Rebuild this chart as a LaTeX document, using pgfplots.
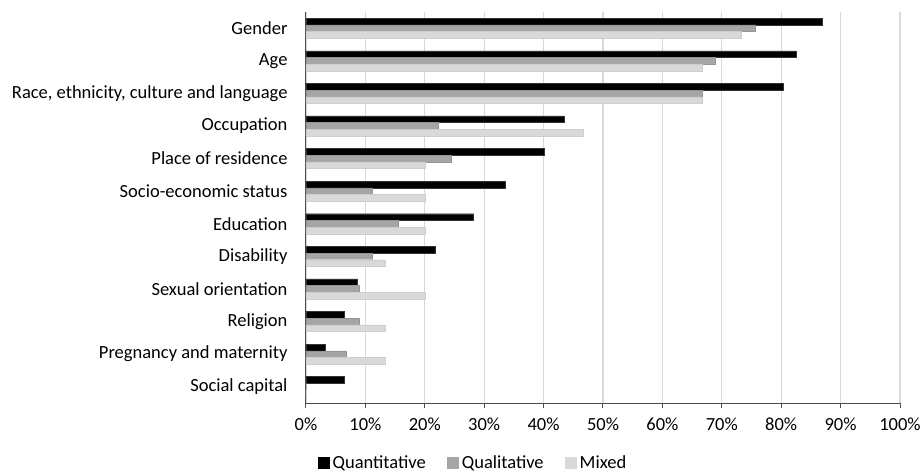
\documentclass[border=0pt]{standalone}
\usepackage{pgfplots}
\pgfplotsset{compat=1.18}
\usepackage{fontspec}
\setmainfont{Carlito}
\definecolor{qualc}{HTML}{A5A5A5}
\definecolor{mixc}{HTML}{D9D9D9}
\definecolor{gridc}{HTML}{D9D9D9}
\begin{document}
\begin{tikzpicture}
\path[use as bounding box] (-306pt,-69pt) rectangle (615pt,403pt);
\begin{axis}[
  at={(0pt,0pt)}, anchor=south west,
  scale only axis, width=594pt, height=391pt,
  xbar=0pt, bar width=6.7pt,
  xmin=0, xmax=100, ymin=-0.5, ymax=11.5, y dir=reverse,
  axis x line*=bottom, axis y line*=left,
  axis line style={-, draw=black!70, line width=1pt},
  xtick={0,10,...,100},
  xticklabels={0\%,10\%,20\%,30\%,40\%,50\%,60\%,70\%,80\%,90\%,100\%},
  xmajorgrids, grid style={gridc, line width=1.2pt},
  ytick={0,...,11},
  yticklabels={Gender,Age,{Race, ethnicity, culture and language},Occupation,Place of residence,Socio-economic status,Education,Disability,Sexual orientation,Religion,Pregnancy and maternity,Social capital},
  y tick style={draw=none},
  x tick style={draw=black!70, line width=1pt},
  tick align=outside, major tick length=5pt,
  tick label style={font=\fontsize{18.5}{22}\selectfont, text=black},
  xticklabel style={yshift=-6pt},
  yticklabel style={xshift=-10pt},
  /pgf/number format/assume math mode=true,
  legend style={at={(0.281,-0.153)}, anchor=center, legend columns=3, draw=none,
    font=\fontsize{18.5}{22}\selectfont, text=black,
    /tikz/every odd column/.append style={column sep=1pt},
    /tikz/every even column/.append style={column sep=19pt}},
  legend image code/.code={\fill[#1, draw=none] (0pt,-6pt) rectangle (12pt,6pt);},
]
\addplot[fill=black, draw=black!80, line width=0.4pt, bar shift=6.7pt] coordinates {
(86.9,0) (82.5,1) (80.3,2) (43.4,3) (40.1,4) (33.6,5) (28.2,6) (21.7,7) (8.7,8) (6.5,9) (3.2,10) (6.5,11)};
\addlegendentry{Quantitative}
\addplot[fill=qualc, draw=qualc!90!black, line width=0.4pt, bar shift=0pt] coordinates {
(75.6,0) (68.9,1) (66.7,2) (22.2,3) (24.4,4) (11.1,5) (15.6,6) (11.1,7) (8.9,8) (8.9,9) (6.7,10) (0,11)};
\addlegendentry{Qualitative}
\addplot[fill=mixc, draw=mixc!95!black, line width=0.4pt, bar shift=-6.7pt] coordinates {
(73.3,0) (66.7,1) (66.7,2) (46.7,3) (20,4) (20,5) (20,6) (13.3,7) (20,8) (13.3,9) (13.3,10) (0,11)};
\addlegendentry{Mixed}
\end{axis}
\end{tikzpicture}
\end{document}
